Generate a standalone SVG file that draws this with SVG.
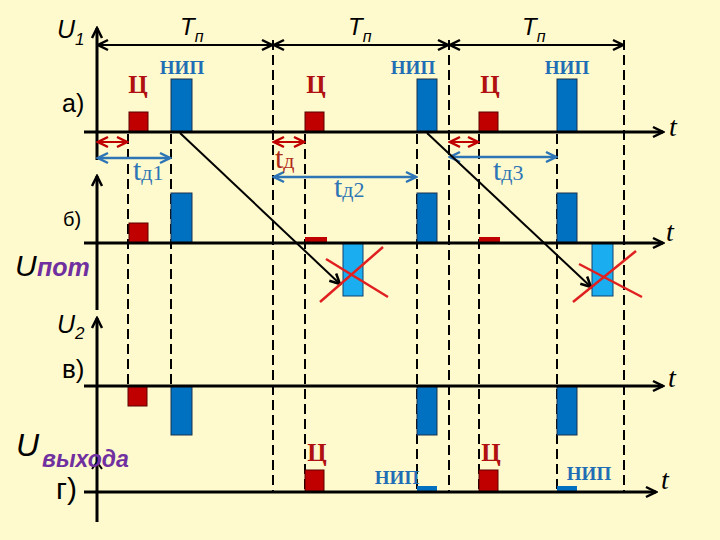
<svg xmlns="http://www.w3.org/2000/svg" width="720" height="540" viewBox="0 0 720 540">
<defs>
<style>
.ax{stroke:#000;stroke-width:3;fill:none}
.dash{stroke:#000;stroke-width:2;stroke-dasharray:10 5;fill:none}
.dim{stroke:#000;stroke-width:2;fill:none}
.red{fill:#C00000;stroke:#5A0000;stroke-width:1}
.nip{fill:#0070C0;stroke:#1A3050;stroke-width:1}
.lb{fill:#1AAEF0;stroke:#104070;stroke-width:1}
.x{stroke:#E02020;stroke-width:2.5}
.sans{font-family:"Liberation Sans",Arial,sans-serif}
.serif{font-family:"Liberation Serif","Times New Roman",serif}
.ts{font-family:"Liberation Sans",Arial,sans-serif;font-style:italic;fill:#000}
.c{font-family:"Liberation Serif","Times New Roman",serif;font-weight:bold;font-size:25px;fill:#B01010;text-anchor:middle}
.n{font-family:"Liberation Serif","Times New Roman",serif;font-weight:bold;font-size:19px;fill:#1F6EB5;text-anchor:middle}
.pur{font-family:"Liberation Sans",Arial,sans-serif;font-style:italic;font-weight:bold;fill:#7030A0}
.tt{font-family:"Liberation Serif","Times New Roman",serif;font-style:italic;font-size:28px;fill:#000}
</style>
<marker id="ak" viewBox="-1 -7 13 14" refX="10" refY="0" markerWidth="13" markerHeight="14" markerUnits="userSpaceOnUse" orient="auto-start-reverse"><path d="M0,-5 L10,0 L0,5" fill="none" stroke="#000" stroke-width="2.5"/></marker>
<marker id="ab" viewBox="-1 -7 13 14" refX="10" refY="0" markerWidth="13" markerHeight="14" markerUnits="userSpaceOnUse" orient="auto-start-reverse"><path d="M0,-5 L10,0 L0,5" fill="none" stroke="#2E75B6" stroke-width="2.5"/></marker>
<marker id="ar" viewBox="-1 -7 13 14" refX="10" refY="0" markerWidth="13" markerHeight="14" markerUnits="userSpaceOnUse" orient="auto-start-reverse"><path d="M0,-5 L10,0 L0,5" fill="none" stroke="#C00000" stroke-width="2.5"/></marker>
</defs>
<rect width="720" height="540" fill="#FFFACD"/>

<g id="grid">
<line class="dash" x1="128" y1="134" x2="128" y2="387"/>
<line class="dash" x1="171" y1="134" x2="171" y2="387"/>
<line class="dash" x1="273" y1="40" x2="273" y2="492"/>
<line class="dash" x1="305" y1="134" x2="305" y2="492"/>
<line class="dash" x1="417" y1="134" x2="417" y2="492"/>
<line class="dash" x1="449" y1="40" x2="449" y2="492"/>
<line class="dash" x1="479" y1="134" x2="479" y2="492"/>
<line class="dash" x1="557" y1="134" x2="557" y2="492"/>
<line class="dash" x1="624" y1="40" x2="624" y2="492"/>
</g>

<g id="pulses">
<rect class="red" x="129" y="112" width="19" height="20"/>
<rect class="nip" x="171" y="79" width="21" height="53"/>
<rect class="red" x="305" y="112" width="19" height="20"/>
<rect class="nip" x="417" y="79" width="20" height="53"/>
<rect class="red" x="479" y="112" width="19" height="20"/>
<rect class="nip" x="557" y="79" width="20" height="53"/>

<rect class="red" x="129" y="223" width="19" height="20"/>
<rect class="nip" x="171" y="193" width="21" height="50"/>
<rect x="305" y="237" width="22" height="5" fill="#C00000"/>
<rect class="nip" x="417" y="193" width="20" height="50"/>
<rect class="lb" x="343" y="243" width="20" height="53"/>
<rect x="479" y="237" width="21" height="5" fill="#C00000"/>
<rect class="nip" x="557" y="193" width="20" height="50"/>
<rect class="lb" x="592" y="243" width="21" height="53"/>

<rect class="red" x="128" y="386" width="19" height="20"/>
<rect class="nip" x="171" y="386" width="21" height="49"/>
<rect class="nip" x="417" y="386" width="20" height="49"/>
<rect class="nip" x="557" y="386" width="20" height="49"/>

<rect class="red" x="305" y="470" width="19" height="22"/>
<rect x="417" y="486" width="20" height="5" fill="#0070C0"/>
<rect class="red" x="479" y="470" width="19" height="22"/>
<rect x="557" y="486" width="20" height="5" fill="#0070C0"/>
</g>

<g id="axes">
<line class="ax" x1="97" y1="160" x2="97" y2="28" marker-end="url(#ak)"/>
<line class="ax" x1="97" y1="310" x2="97" y2="176" marker-end="url(#ak)"/>
<line class="ax" x1="97" y1="522" x2="97" y2="318" marker-end="url(#ak)"/>
<path d="M92,469 L97,462 L102,469" fill="none" stroke="#000" stroke-width="2"/>
<line class="ax" x1="84" y1="132" x2="663" y2="132" marker-end="url(#ak)"/>
<line class="ax" x1="84" y1="243" x2="663" y2="243" marker-end="url(#ak)"/>
<line class="ax" x1="84" y1="386" x2="663" y2="386" marker-end="url(#ak)"/>
<line class="ax" x1="84" y1="492" x2="656" y2="492" marker-end="url(#ak)"/>
</g>

<g id="connectors">
<line class="dim" x1="98" y1="45" x2="272" y2="45" marker-start="url(#ak)" marker-end="url(#ak)"/>
<line class="dim" x1="274" y1="45" x2="448" y2="45" marker-start="url(#ak)" marker-end="url(#ak)"/>
<line class="dim" x1="450" y1="45" x2="623" y2="45" marker-start="url(#ak)" marker-end="url(#ak)"/>
<line x1="98" y1="142" x2="127" y2="142" stroke="#C00000" stroke-width="2" marker-start="url(#ar)" marker-end="url(#ar)"/>
<line x1="274" y1="142" x2="304" y2="142" stroke="#C00000" stroke-width="2" marker-start="url(#ar)" marker-end="url(#ar)"/>
<line x1="450" y1="142" x2="478" y2="142" stroke="#C00000" stroke-width="2" marker-start="url(#ar)" marker-end="url(#ar)"/>
<line x1="98" y1="158" x2="170" y2="158" stroke="#2E75B6" stroke-width="2.5" marker-start="url(#ab)" marker-end="url(#ab)"/>
<line x1="274" y1="177" x2="416" y2="177" stroke="#2E75B6" stroke-width="2.5" marker-start="url(#ab)" marker-end="url(#ab)"/>
<line x1="450" y1="157" x2="556" y2="157" stroke="#2E75B6" stroke-width="2.5" marker-start="url(#ab)" marker-end="url(#ab)"/>
<line x1="180" y1="133" x2="340" y2="284" stroke="#000" stroke-width="2" marker-end="url(#ak)"/>
<line x1="427" y1="133" x2="591" y2="287" stroke="#000" stroke-width="2" marker-end="url(#ak)"/>
<line class="x" x1="320" y1="302" x2="383" y2="247"/>
<line class="x" x1="326" y1="259" x2="388" y2="297"/>
<line class="x" x1="573" y1="302" x2="636" y2="251"/>
<line class="x" x1="579" y1="264" x2="642" y2="297"/>
</g>

<g id="labels">
<text class="ts" x="57" y="38" font-size="25">U<tspan font-size="17" dy="7">1</tspan></text>
<text class="ts" x="180" y="35" font-size="24">T<tspan font-size="16" dy="7">п</tspan></text>
<text class="ts" x="348" y="35" font-size="24">T<tspan font-size="16" dy="7">п</tspan></text>
<text class="ts" x="522" y="35" font-size="24">T<tspan font-size="16" dy="7">п</tspan></text>
<text class="sans" x="62" y="112" font-size="25">а)</text>
<text class="sans" x="63" y="226" font-size="20">б)</text>
<text class="ts" x="15" y="276" font-size="30">U</text>
<text class="pur" x="37" y="276" font-size="25">пот</text>
<text class="ts" x="57" y="333" font-size="25">U<tspan font-size="17" dy="6">2</tspan></text>
<text class="sans" x="62" y="378" font-size="26">в)</text>
<text class="ts" x="16" y="456" font-size="32">U</text>
<text class="pur" x="42" y="467" font-size="23">выхода</text>
<text class="sans" x="56" y="499" font-size="30">г)</text>

<text class="c" x="138" y="93">Ц</text>
<text class="c" x="316" y="93">Ц</text>
<text class="c" x="490" y="93">Ц</text>
<text class="c" x="317" y="461">Ц</text>
<text class="c" x="491" y="461">Ц</text>
<text class="n" x="182" y="74">НИП</text>
<text class="n" x="413" y="74">НИП</text>
<text class="n" x="567" y="74">НИП</text>
<text class="n" x="397" y="484">НИП</text>
<text class="n" x="589" y="480">НИП</text>

<text class="serif" x="275" y="168" font-size="30" fill="#B02A18">t<tspan font-size="22">д</tspan></text>
<text class="serif" x="133" y="180" font-size="30" fill="#2E75B6">t<tspan font-size="22">д1</tspan></text>
<text class="serif" x="334" y="197" font-size="30" fill="#2E75B6">t<tspan font-size="22">д2</tspan></text>
<text class="serif" x="493" y="180" font-size="30" fill="#2E75B6">t<tspan font-size="22">д3</tspan></text>

<text class="tt" x="669" y="136">t</text>
<text class="tt" x="666" y="241">t</text>
<text class="tt" x="668" y="387">t</text>
<text class="tt" x="661" y="489">t</text>
</g>
</svg>
